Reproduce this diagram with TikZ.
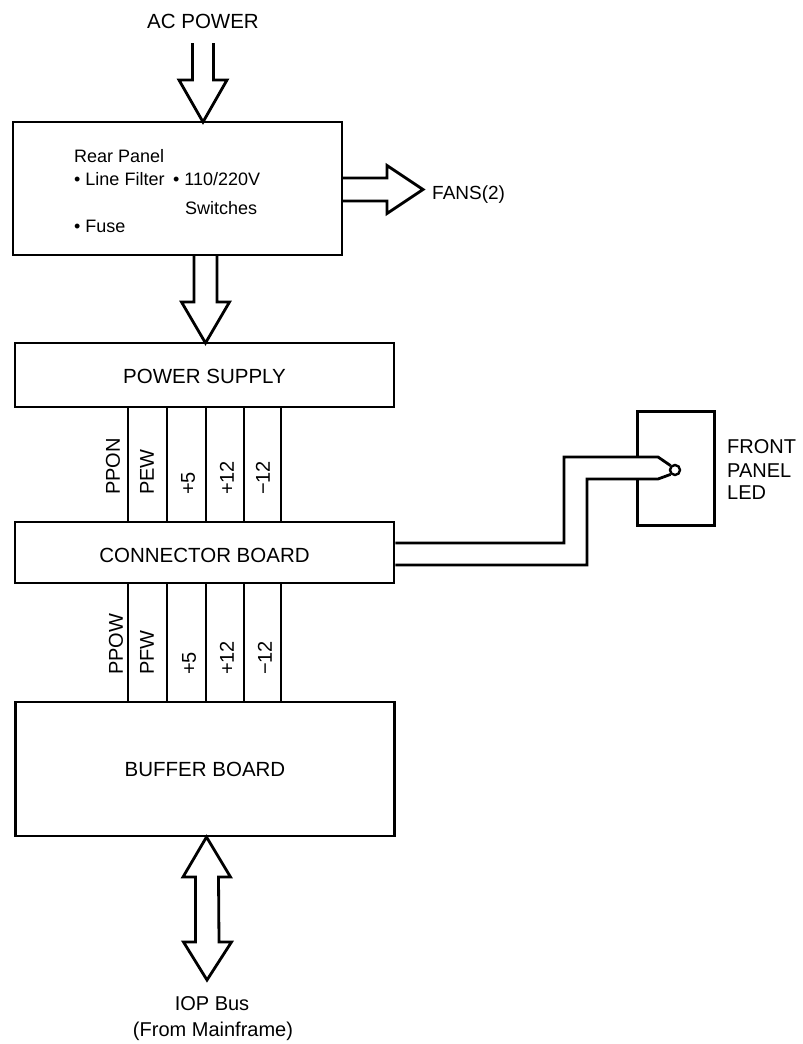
\documentclass[tikz,border=0pt]{standalone}
\usepackage{fontspec}
\setmainfont{Liberation Sans}
\usetikzlibrary{calc}
\begin{document}
\begin{tikzpicture}[x=1pt,y=-1pt,
  box/.style={draw,line width=2.8pt,rectangle,inner sep=0pt},
  big/.style={inner sep=0pt,font=\fontsize{20.5}{24}\selectfont},
  small/.style={inner sep=0pt,font=\fontsize{18}{22}\selectfont,anchor=base west},
  wire/.style={line width=2.8pt},
  hollow/.style={line width=2.8pt,line join=miter},
  buslabel/.style={inner sep=0pt,rotate=90,anchor=west,font=\fontsize{20}{24}\selectfont}]
\useasboundingbox (0,0) rectangle (803,1044);

% boxes
\node[box,minimum width=329pt,minimum height=133pt] (rear) at (177.5,188.5) {};
\node[box,minimum width=379pt,minimum height=64pt] (ps) at (204.5,375) {};
\node[box,minimum width=379pt,minimum height=61pt] (cb) at (204.5,552.5) {};
\node[box,minimum width=379pt,minimum height=134pt] (bb) at (205,769) {};
\node[inner sep=0pt,minimum width=76pt,minimum height=113pt] (led) at (676,468.5) {};

% texts
\node[big,anchor=base] (ac) at (203,28) {AC POWER};
\node[small] (rp) at (74,162) {Rear Panel};
\node[small] (lf) at (74,185) {• Line Filter};
\node[small] (sw1) at (173,185) {• 110/220V};
\node[small] (sw2) at (185,214) {Switches};
\node[small] (fu) at (74,232) {• Fuse};
\node[big,anchor=base west,font=\fontsize{19}{22}\selectfont] (fans) at (432,199) {FANS(2)};
\node[big,anchor=base] (pst) at (204.5,383) {POWER SUPPLY};
\node[big,anchor=base] (cbt) at (204.5,562) {CONNECTOR BOARD};
\node[big,anchor=base] (bbt) at (205,776) {BUFFER BOARD};
\node[big,anchor=base west,font=\fontsize{20}{24}\selectfont] (f1) at (727,453) {FRONT};
\node[big,anchor=base west,font=\fontsize{20}{24}\selectfont] (f2) at (727,477) {PANEL};
\node[big,anchor=base west,font=\fontsize{20}{24}\selectfont] (f3) at (727,499) {LED};
\node[big,anchor=base,font=\fontsize{20}{24}\selectfont] (iop1) at (212,1010) {IOP Bus};
\node[big,anchor=base,font=\fontsize{20}{24}\selectfont] (iop2) at (213,1036) {(From Mainframe)};

% AC power arrow
\coordinate (actip) at (203,122);
\draw[hollow] ($(actip)+(-10.5,-79)$) -- ($(actip)+(-10.5,-42)$) -- ($(actip)+(-24,-42)$)
  -- (actip) -- ($(actip)+(24,-42)$) -- ($(actip)+(10.5,-42)$) -- ($(actip)+(10.5,-79)$);

% rear -> power supply arrow
\coordinate (pstip) at (205.5,343);
\coordinate (psbase) at (205.5,255);
\draw[hollow] ($(psbase)+(-11.5,0)$) -- ($(pstip)+(-11.5,-41)$) -- ($(pstip)+(-24,-41)$)
  -- (pstip) -- ($(pstip)+(24,-41)$) -- ($(pstip)+(11.5,-41)$) -- ($(psbase)+(11.5,0)$);

% fans arrow
\coordinate (fantip) at (423,189.5);
\coordinate (fanbase) at (342,189.5);
\draw[hollow] ($(fanbase)+(0,-11.5)$) -- ($(fantip)+(-36,-11.5)$) -- ($(fantip)+(-36,-24)$)
  -- (fantip) -- ($(fantip)+(-36,24)$) -- ($(fantip)+(-36,11.5)$) -- ($(fanbase)+(0,11.5)$);

% IOP bus double arrow
\coordinate (iopt) at (206.5,837);
\coordinate (iopb) at (207,980);
\draw[hollow] (iopt) -- ($(iopt)+(24,40)$) -- ($(iopt)+(12,40)$) -- ($(iopb)+(12,-38)$)
  -- ($(iopb)+(24.5,-38)$) -- (iopb) -- ($(iopb)+(-23.5,-38)$) -- ($(iopb)+(-11.5,-38)$)
  -- ($(iopt)+(-11,40)$) -- ($(iopt)+(-23.5,40)$) -- cycle;

% bus lines
\foreach \x in {128,167,206,244,281} {
  \draw[wire] (ps.south -| \x,0) -- (cb.north -| \x,0);
  \draw[wire] (cb.south -| \x,0) -- (bb.north -| \x,0);
}
\node[buslabel] (l1) at (113,495) {PPON};
\node[buslabel] (l2) at (147,495) {PEW};
\node[buslabel] (l3) at (188,495) {+5};
\node[buslabel] (l4) at (227,495) {+12};
\node[buslabel] (l5) at (263,495) {−12};
\node[buslabel] (m1) at (116,675) {PPOW};
\node[buslabel] (m2) at (147,675) {PFW};
\node[buslabel] (m3) at (189,675) {+5};
\node[buslabel] (m4) at (227,675) {+12};
\node[buslabel] (m5) at (265,675) {−12};

% front panel LED box (edge broken by wires)
\draw[wire,line join=miter] (led.west |- 0,457) -- (led.north west) -- (led.north east)
  -- (led.south east) -- (led.south west) -- (led.west |- 0,479);
\node[draw,circle,line width=2.4pt,inner sep=0pt,minimum size=10pt] (lamp) at (675,470) {};
\draw[wire] (cb.east |- 0,543) -- (564,543) -- (564,457) -- (658,457) -- (lamp.north west);
\draw[wire] (cb.east |- 0,565) -- (587,565) -- (587,479) -- (658,479) -- (lamp.south west);
\end{tikzpicture}
\end{document}
